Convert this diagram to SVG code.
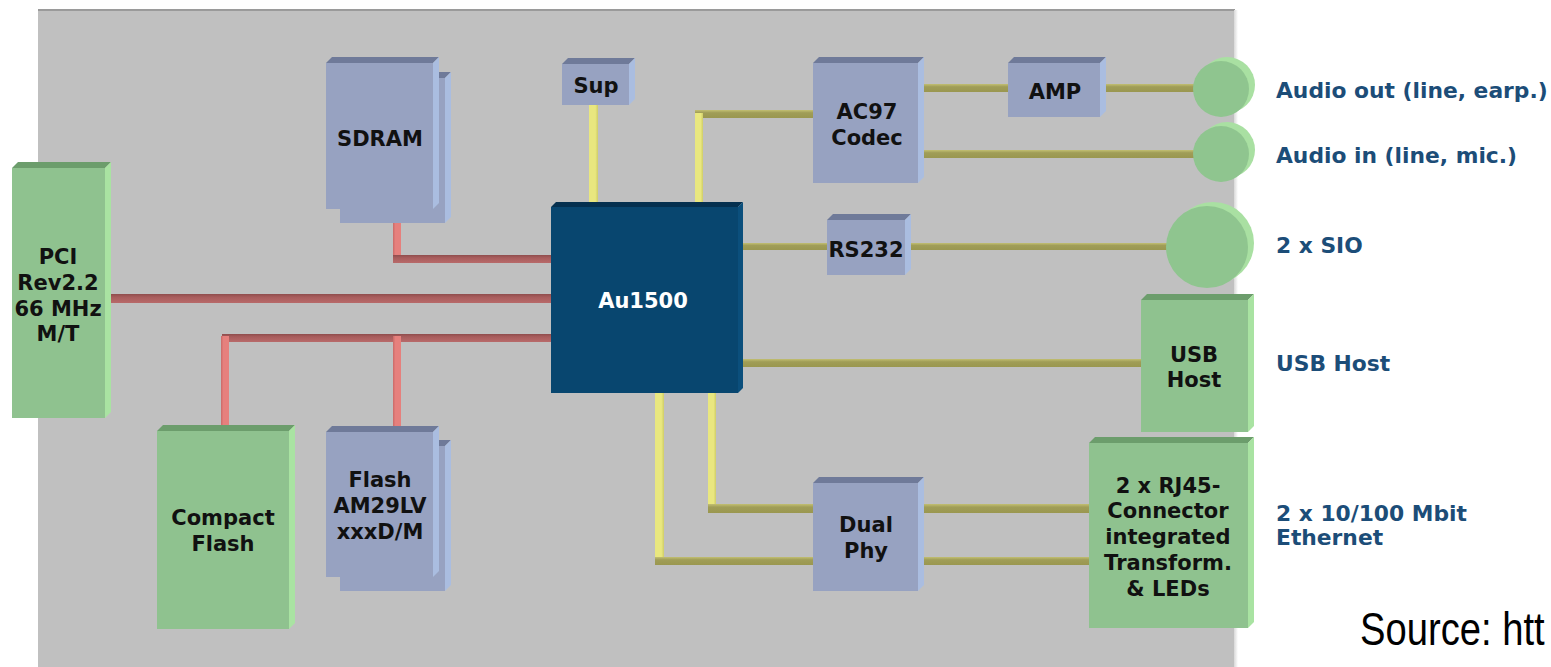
<svg xmlns="http://www.w3.org/2000/svg" width="1551" height="667" viewBox="0 0 1551 667">
<defs>
<linearGradient id="rh" x1="0" y1="0" x2="0" y2="1"><stop offset="0" stop-color="#8f4d4d"/><stop offset="0.35" stop-color="#a85c5c"/><stop offset="1" stop-color="#b86a6a"/></linearGradient>
<linearGradient id="rv" x1="0" y1="0" x2="1" y2="0"><stop offset="0" stop-color="#c96a68"/><stop offset="0.3" stop-color="#e6807d"/><stop offset="1" stop-color="#e6807d"/></linearGradient>
<linearGradient id="yh" x1="0" y1="0" x2="0" y2="1"><stop offset="0" stop-color="#c2bf72"/><stop offset="0.35" stop-color="#a09d57"/><stop offset="1" stop-color="#9a974f"/></linearGradient>
<linearGradient id="yv" x1="0" y1="0" x2="1" y2="0"><stop offset="0" stop-color="#e9e77f"/><stop offset="0.7" stop-color="#e9e77f"/><stop offset="1" stop-color="#cfcd68"/></linearGradient>
<linearGradient id="edge" x1="0" y1="0" x2="1" y2="0"><stop offset="0" stop-color="#d8d8d8"/><stop offset="1" stop-color="#ffffff"/></linearGradient>
</defs>
<style>
.bf{fill:#97a2c1}.bt{fill:#6f7a99}.br{fill:#aabde0}
.gf{fill:#8fc28f}.gt{fill:#6c9d6c}.gr{fill:#a9e3a2}
.af{fill:#08466f}.at{fill:#05304f}.ar{fill:#0b4f7c}
.rh{fill:url(#rh)}.rv{fill:url(#rv)}.yh{fill:url(#yh)}.yv{fill:url(#yv)}
text{font-family:"DejaVu Sans","Verdana",sans-serif;font-weight:bold;font-size:21px;text-anchor:middle;fill:#111}
.lbl{fill:#1c4d78;text-anchor:start;font-size:21.8px}
.w{fill:#ffffff}
.src{font-family:"Liberation Sans",Arial,sans-serif;font-weight:normal;font-size:46px;text-anchor:start;fill:#000}
</style>
<rect width="1551" height="667" fill="#ffffff"/>
<g id="board">
<rect x="38" y="10" width="1197" height="657" fill="#c0c0c0"/>
<rect x="38" y="9" width="1197" height="2" fill="#9a9a9a"/>
<rect x="1234" y="10" width="4" height="657" fill="url(#edge)"/>
</g>
<g id="connectors">
<rect class="rv" x="393" y="218" width="8" height="42"/>
<rect class="rh" x="393" y="255" width="160" height="8"/>
<rect class="rh" x="105" y="294" width="448" height="9"/>
<rect class="rh" x="222" y="334" width="331" height="8"/>
<rect class="rv" x="221" y="336" width="8" height="98"/>
<rect class="rv" x="393" y="336" width="8" height="98"/>
<rect class="yv" x="589" y="104" width="9" height="105"/>
<rect class="yh" x="695" y="110" width="120" height="8"/>
<rect class="yv" x="695" y="113" width="8" height="96"/>
<rect class="yh" x="918" y="84" width="92" height="8"/>
<rect class="yh" x="1100" y="84" width="97" height="8"/>
<rect class="yh" x="918" y="150" width="279" height="8"/>
<rect class="yh" x="736" y="243" width="93" height="7"/>
<rect class="yh" x="905" y="243" width="264" height="7"/>
<rect class="yh" x="736" y="359" width="407" height="8"/>
<rect class="yv" x="708" y="391" width="8" height="118"/>
<rect class="yh" x="708" y="504" width="107" height="9"/>
<rect class="yv" x="655" y="391" width="9" height="172"/>
<rect class="yh" x="655" y="557" width="160" height="8"/>
<rect class="yh" x="918" y="504" width="173" height="9"/>
<rect class="yh" x="918" y="557" width="173" height="8"/>
</g>
<g id="pci">
<polygon class="gt" points="12,168 18,162 111,162 105,168"/>
<polygon class="gr" points="105,168 111,162 111,412 105,418"/>
<rect class="gf" x="12" y="168" width="93" height="250"/>
<text x="58" y="264">PCI</text><text x="58" y="290">Rev2.2</text><text x="58" y="316">66 MHz</text><text x="58" y="341">M/T</text>
</g>
<g id="sdram">
<polygon class="bt" points="340,78 346,72 451,72 445,78"/>
<polygon class="br" points="445,78 451,72 451,217 445,223"/>
<rect class="bf" x="340" y="78" width="105" height="145"/>
<polygon class="bt" points="326,63 332,57 439,57 433,63"/>
<polygon class="br" points="433,63 439,57 439,203 433,209"/>
<rect class="bf" x="326" y="63" width="107" height="146"/>
<text x="380" y="146">SDRAM</text>
</g>
<g id="sup">
<polygon class="bt" points="562,64 568,58 635,58 629,64"/>
<polygon class="br" points="629,64 635,58 635,99 629,105"/>
<rect class="bf" x="562" y="64" width="67" height="41"/>
<text x="596" y="93">Sup</text>
</g>
<g id="au1500">
<polygon class="at" points="551,207 556,202 743,202 738,207"/>
<polygon class="ar" points="738,207 743,202 743,388 738,393"/>
<rect class="af" x="551" y="207" width="187" height="186"/>
<text class="w" x="643" y="308">Au1500</text>
</g>
<g id="ac97">
<polygon class="bt" points="813,63 819,57 924,57 918,63"/>
<polygon class="br" points="918,63 924,57 924,177 918,183"/>
<rect class="bf" x="813" y="63" width="105" height="120"/>
<text x="867" y="119">AC97</text><text x="867" y="145">Codec</text>
</g>
<g id="amp">
<polygon class="bt" points="1008,63 1014,57 1106,57 1100,63"/>
<polygon class="br" points="1100,63 1106,57 1106,111 1100,117"/>
<rect class="bf" x="1008" y="63" width="92" height="54"/>
<text x="1055" y="99">AMP</text>
</g>
<g id="rs232">
<polygon class="bt" points="827,220 833,214 911,214 905,220"/>
<polygon class="br" points="905,220 911,214 911,269 905,275"/>
<rect class="bf" x="827" y="220" width="78" height="55"/>
<text x="866" y="257">RS232</text>
</g>
<g id="audio-out">
<circle cx="1227" cy="85" r="28" fill="#a9e0a2"/>
<circle cx="1221" cy="89" r="28" fill="#8fc58f"/>
<text class="lbl" x="1276" y="98">Audio out (line, earp.)</text>
</g>
<g id="audio-in">
<circle cx="1227" cy="150" r="28" fill="#a9e0a2"/>
<circle cx="1221" cy="154" r="28" fill="#8fc58f"/>
<text class="lbl" x="1276" y="163">Audio in (line, mic.)</text>
</g>
<g id="sio">
<circle cx="1213" cy="243" r="41" fill="#a9e0a2"/>
<circle cx="1207" cy="247" r="41" fill="#8fc58f"/>
<text class="lbl" x="1276" y="253">2 x SIO</text>
</g>
<g id="usb">
<polygon class="gt" points="1141,300 1147,294 1254,294 1248,300"/>
<polygon class="gr" points="1248,300 1254,294 1254,426 1248,432"/>
<rect class="gf" x="1141" y="300" width="107" height="132"/>
<text x="1194" y="362">USB</text><text x="1194" y="387">Host</text>
<text class="lbl" x="1276" y="371">USB Host</text>
</g>
<g id="rj45">
<polygon class="gt" points="1089,443 1095,437 1254,437 1248,443"/>
<polygon class="gr" points="1248,443 1254,437 1254,622 1248,628"/>
<rect class="gf" x="1089" y="443" width="159" height="185"/>
<text x="1168" y="493">2 x RJ45-</text><text x="1168" y="518">Connector</text><text x="1168" y="544">integrated</text><text x="1168" y="570">Transform.</text><text x="1168" y="596">&amp; LEDs</text>
<text class="lbl" x="1276" y="521">2 x 10/100 Mbit</text><text class="lbl" x="1276" y="545">Ethernet</text>
</g>
<g id="dualphy">
<polygon class="bt" points="813,483 819,477 924,477 918,483"/>
<polygon class="br" points="918,483 924,477 924,585 918,591"/>
<rect class="bf" x="813" y="483" width="105" height="108"/>
<text x="866" y="532">Dual</text><text x="866" y="558">Phy</text>
</g>
<g id="compactflash">
<polygon class="gt" points="157,431 163,425 295,425 289,431"/>
<polygon class="gr" points="289,431 295,425 295,623 289,629"/>
<rect class="gf" x="157" y="431" width="132" height="198"/>
<text x="223" y="525">Compact</text><text x="223" y="551">Flash</text>
</g>
<g id="flash">
<polygon class="bt" points="340,446 346,440 451,440 445,446"/>
<polygon class="br" points="445,446 451,440 451,585 445,591"/>
<rect class="bf" x="340" y="446" width="105" height="145"/>
<polygon class="bt" points="326,432 332,426 439,426 433,432"/>
<polygon class="br" points="433,432 439,426 439,571 433,577"/>
<rect class="bf" x="326" y="432" width="107" height="145"/>
<text x="380" y="487">Flash</text><text x="380" y="513">AM29LV</text><text x="380" y="539">xxxD/M</text>
</g>
<text class="src" transform="translate(1360,645) scale(0.83,1)" x="0" y="0">Source: htt</text>
</svg>
